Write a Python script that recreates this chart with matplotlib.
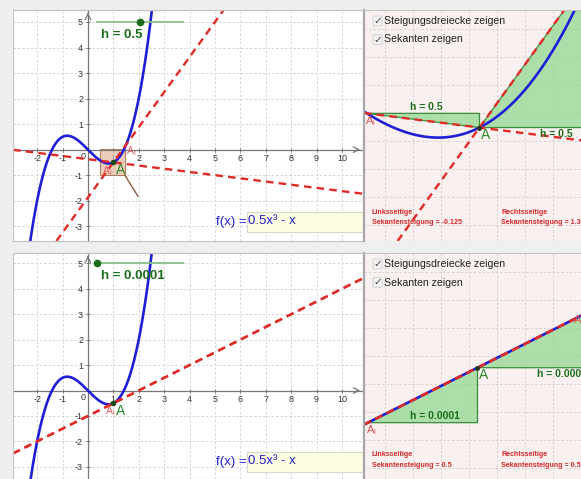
import matplotlib.pyplot as plt
from matplotlib.patches import Rectangle, Polygon, FancyBboxPatch
from matplotlib.lines import Line2D
import numpy as np

plt.rcParams['font.family'] = ['Liberation Sans', 'DejaVu Sans']
plt.rcParams['axes.unicode_minus'] = False

# --- Data ---
coef_a = 0.5          # f(x) = a*x^3 - x
x_point = 1.0         # point A
h_values = [0.5, 0.0001]
slider_range = [0.0, 1.0]
x_ticks = [-2, -1, 1, 2, 3, 4, 5, 6, 7, 8, 9, 10]
y_ticks = [-3, -2, -1, 1, 2, 3, 4, 5]
# visible window of the overview views (left)
main_xlim = (-2.95, 10.83)
main_ylims = [(-3.58, 5.47), (-3.48, 5.41)]
# visible window of the zoomed views (right)
zoom_xlims = [(0.487, 1.451), (1 - 1.036e-4, 1 + 0.945e-4)]
zoom_ylims = [(-1.0, 0.018), (-0.5 - 1.012e-4, -0.5 + 1.043e-4)]
checkbox_labels = ['Steigungsdreiecke zeigen', 'Sekanten zeigen']
show_right_label = [True, False]
al_offsets = [(4.3, -7.2), (-2, -6)]


def f(x):
    return coef_a * x ** 3 - x


W, H = 581, 479
BLUE = '#1f1fd6'
RED = '#e22a26'
DGREEN = '#1c6e1c'
DASH = (0, (3.2, 2.2))

fig = plt.figure(figsize=(W / 100, H / 100), dpi=100, facecolor='#efefef')


def px_axes(x0, y0, x1, y1):
    return fig.add_axes([x0 / W, 1 - y1 / H, (x1 - x0) / W, (y1 - y0) / H])


def frame(ax, color='#c4c4c4'):
    ax.add_patch(Rectangle((0, 0), 1, 1, transform=ax.transAxes, fill=False,
                           edgecolor=color, lw=0.8, clip_on=False, zorder=10))


def secant_slopes(h):
    sl = (f(x_point) - f(x_point - h)) / h
    sr = (f(x_point + h) - f(x_point)) / h
    return sl, sr


rows = [(10, 241), (253, 479)]

for i, h in enumerate(h_values):
    y0, y1 = rows[i]
    A = (x_point, f(x_point))
    sl, sr = secant_slopes(h)
    zx, zy = zoom_xlims[i], zoom_ylims[i]

    # ---------- overview panel ----------
    ax = px_axes(13, y0, 363, y1)
    ax.set_facecolor('white')
    ax.set_xlim(main_xlim)
    ax.set_ylim(main_ylims[i])
    ax.set_xticks(x_ticks)
    ax.set_yticks(y_ticks)
    ax.grid(True, color='#d6d6d6', linestyle=(0, (2.5, 2)), linewidth=0.7)
    ax.set_axisbelow(True)
    for s in ['top', 'right']:
        ax.spines[s].set_visible(False)
    for s in ['left', 'bottom']:
        ax.spines[s].set_position(('data', 0))
        ax.spines[s].set_color('#777777')
        ax.spines[s].set_linewidth(0.9)
    ax.tick_params(direction='inout', length=3, width=0.7, color='#777777',
                   labelsize=6.5, labelcolor='#333333', pad=2)
    ax.text(-0.08, -0.08, '0', fontsize=6.5, color='#333333', ha='right', va='top')
    ax.annotate('', xy=(1, 0), xycoords=ax.get_yaxis_transform(),
                xytext=(0.975, 0), textcoords=ax.get_yaxis_transform(),
                arrowprops=dict(arrowstyle='->', color='#777777', lw=0.9))
    ax.annotate('', xy=(0, 1), xycoords=ax.get_xaxis_transform(),
                xytext=(0, 0.97), textcoords=ax.get_xaxis_transform(),
                arrowprops=dict(arrowstyle='->', color='#777777', lw=0.9))
    frame(ax)

    # zoom window of the right view
    ax.add_patch(Rectangle((zx[0], zy[0]), zx[1] - zx[0], zy[1] - zy[0],
                           facecolor='#e6bda6', alpha=0.75, edgecolor='#a0603c',
                           lw=0.8, zorder=2))
    if i == 0:
        ax.plot([zx[1], zx[1] + 0.52], [zy[0], zy[0] - 0.83], color='#8a4a30', lw=0.9, zorder=2)

    xs = np.linspace(*main_xlim, 1000)
    ax.plot(xs, f(xs), color=BLUE, lw=1.9, zorder=4)
    ax.axline(A, slope=sl, color=RED, lw=1.7, ls=DASH, zorder=5)
    ax.axline(A, slope=sr, color=RED, lw=1.7, ls=DASH, zorder=5)

    ax.plot(*A, 'o', ms=3, color='#1a4a1a', zorder=6)
    ax.annotate('A', A, xytext=(5.5, -5.5), textcoords='offset points', color='#2a8a2a',
                fontsize=10, ha='center', va='center', zorder=7)
    ax.annotate(r'A$_\mathregular{l}$', (x_point - h, f(x_point - h)), xytext=al_offsets[i],
                textcoords='offset points', color='#e06060', fontsize=7.5,
                ha='center', va='center', zorder=7)
    if show_right_label[i]:
        ax.annotate(r'A$_\mathregular{r}$', (x_point + h, f(x_point + h)), xytext=(4, -4.5),
                    textcoords='offset points', color='#e06060', fontsize=7.5,
                    ha='center', va='center', zorder=7)

    # slider for h
    sx0, sx1, sy = 0.34, 3.74, 5
    ax.plot([sx0, sx1], [sy, sy], color='#86bf86', lw=1.3, zorder=6)
    sp = sx0 + (h - slider_range[0]) / (slider_range[1] - slider_range[0]) * (sx1 - sx0)
    ax.plot(sp, sy, 'o', ms=4.5, color=DGREEN, zorder=7)
    ax.text(0.5, 4.5, f'h = {h:g}', color=DGREEN, fontsize=9.5, fontweight='bold',
            ha='left', va='center', zorder=7)

    # input box
    bh = (rows[i][1] - rows[i][0])
    by0 = (9.5 if i == 0 else 7.5) / bh
    ax.add_patch(Rectangle((0.669, by0), 0.331, 20 / bh, transform=ax.transAxes,
                           facecolor='#fdfde2', edgecolor='#d8d8c8', lw=0.8, zorder=8))
    ax.text(0.667, by0 + 10 / bh, 'f(x) =', transform=ax.transAxes, color=BLUE,
            fontsize=9.5, ha='right', va='center', zorder=9)
    ax.text(0.672, by0 + 10 / bh, '0.5x³ - x', transform=ax.transAxes, color=BLUE,
            fontsize=9.5, ha='left', va='center', zorder=9)

    # ---------- zoomed panel ----------
    az = px_axes(364, y0, 581, y1)
    az.set_facecolor('#f8f1ef')
    az.set_xlim(zx)
    az.set_ylim(zy)
    pw, ph = 581 - 364, y1 - y0
    dx = (zx[1] - zx[0]) / pw
    dy = (zy[1] - zy[0]) / ph
    az.set_xticks(zx[0] + dx * np.arange(21, pw, 28))
    az.set_yticks(zy[1] - dy * np.arange(19, ph, 28))
    az.grid(True, color='#d9d2d0', linestyle=(0, (2.5, 2)), linewidth=0.7)
    az.set_axisbelow(True)
    az.tick_params(length=0, labelbottom=False, labelleft=False)
    for s in az.spines.values():
        s.set_visible(False)

    tri_l = [(x_point - h, f(x_point - h)), (x_point, f(x_point - h)), A]
    tri_r = [A, (x_point + h, f(x_point)), (x_point + h, f(x_point + h))]
    for tri in (tri_l, tri_r):
        az.add_patch(Polygon(tri, closed=True, facecolor='#8cd78c', alpha=0.7,
                             edgecolor='none', zorder=2))
        az.add_patch(Polygon(tri, closed=True, fill=False,
                             edgecolor='#3c8c3c', lw=0.9, zorder=3))
    az.text(x_point - 0.62 * h, f(x_point - h) + 1.5 * dy, f'h = {h:g}', color=DGREEN,
            fontsize=7.5, fontweight='bold', ha='left', va='bottom', zorder=6, clip_on=True)
    az.text(x_point + 0.54 * h, f(x_point) - 1.5 * dy, f'h = {h:g}', color=DGREEN,
            fontsize=7.5, fontweight='bold', ha='left', va='top', zorder=6, clip_on=True)

    xz = np.linspace(zx[0], zx[1], 400)
    az.plot(xz, f(xz), color=BLUE, lw=1.9, zorder=4)
    az.axline(A, slope=sl, color=RED, lw=1.7, ls=DASH, zorder=5)
    az.axline(A, slope=sr, color=RED, lw=1.7, ls=DASH, zorder=5)
    az.plot(*A, 'o', ms=2.5, color='#1a3a1a', zorder=6)
    az.annotate('A', A, xytext=(4.5, -5.5), textcoords='offset points', color='#2a8a2a',
                fontsize=10, ha='center', va='center', zorder=7)
    az.annotate(r'A$_\mathregular{l}$', (x_point - h, f(x_point - h)), xytext=(2.5, -5.5),
                textcoords='offset points', color='#e05050', fontsize=8,
                ha='center', va='center', zorder=7, annotation_clip=False)
    az.annotate(r'A$_\mathregular{r}$', (x_point + h, f(x_point + h)), xytext=(-6, -5),
                textcoords='offset points', color='#e05050', fontsize=8,
                ha='center', va='center', zorder=7, annotation_clip=False, clip_on=True)

    # checkboxes
    cb_y = [1 - 11 / ph, 1 - 29.5 / ph]
    for lab, cy in zip(checkbox_labels, cb_y):
        az.add_patch(FancyBboxPatch((9 / pw, cy - 5 / ph), 9 / pw, 10 / ph,
                                    boxstyle='round,pad=0,rounding_size=0.005',
                                    transform=az.transAxes, facecolor='#f2f2f2',
                                    edgecolor='#d0d0d0', lw=0.6, zorder=8))
        az.text(13.5 / pw, cy, '✓', transform=az.transAxes, fontsize=7.5, color='#444444',
                ha='center', va='center', zorder=9)
        az.text(19.5 / pw, cy, lab, transform=az.transAxes, fontsize=7.6, color='#222222',
                ha='left', va='center', zorder=9)

    # slope texts
    ty1 = (28 if i == 0 else 24) / ph
    ty2 = (18 if i == 0 else 13.3) / ph
    az.text(7.5 / pw, ty1, 'Linksseitige', transform=az.transAxes, color='#d42a2a',
            fontsize=5.1, fontweight='bold', ha='left', va='center', zorder=9)
    az.text(7.5 / pw, ty2, f'Sekantensteigung = {round(sl, 3):g}', transform=az.transAxes,
            color='#d42a2a', fontsize=5.1, fontweight='bold', ha='left', va='center', zorder=9)
    az.text(137 / pw, ty1, 'Rechtsseitige', transform=az.transAxes, color='#d42a2a',
            fontsize=5.1, fontweight='bold', ha='left', va='center', zorder=9, clip_on=True)
    az.text(137 / pw, ty2, f'Sekantensteigung = {round(sr, 3):g}', transform=az.transAxes,
            color='#d42a2a', fontsize=5.1, fontweight='bold', ha='left', va='center',
            zorder=9, clip_on=True)

    # separator between views
    fig.add_artist(Line2D([363.5 / W, 363.5 / W], [1 - y1 / H, 1 - y0 / H],
                          color='#a8a8a8', lw=1.6))
    fig.add_artist(Line2D([13 / W, 1], [1 - y0 / H, 1 - y0 / H], color='#c4c4c4', lw=0.8))

fig.savefig('out.png', dpi=100, facecolor=fig.get_facecolor())
